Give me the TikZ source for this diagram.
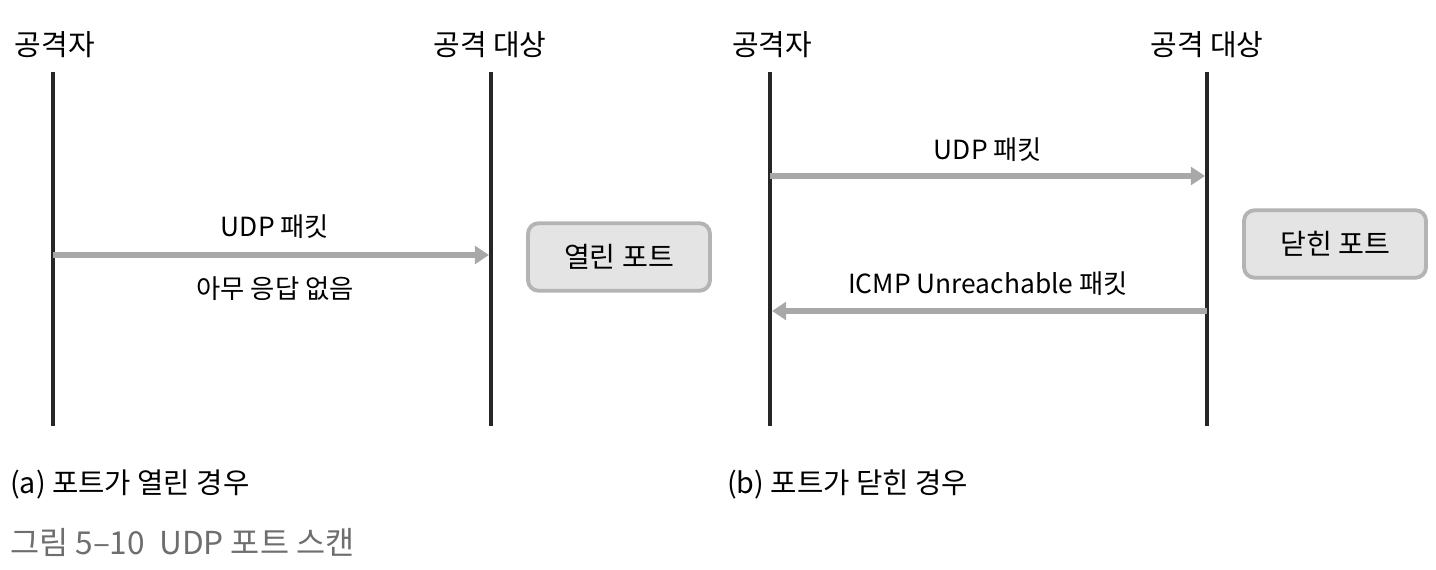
\documentclass[tikz,border=0pt]{standalone}
\usepackage{fontspec}
\setmainfont{Noto Sans CJK KR}
\usepackage{xcolor}
\usetikzlibrary{arrows.meta,positioning}
\definecolor{msg}{HTML}{A8A8A8}
\definecolor{boxfill}{HTML}{E4E4E4}
\definecolor{boxline}{HTML}{B4B4B4}
\definecolor{capgray}{HTML}{6E6E6E}

\tikzset{
  actor/.style={font=\fontsize{16.5}{19}\selectfont},
  lifeline/.style={line width=2.3pt,black!85},
  msgarrow/.style={msg,line width=3.4pt,-{Triangle[length=8pt,width=10pt]}},
  msglabel/.style={font=\fontsize{15}{18}\selectfont},
  portbox/.style={draw=boxline,fill=boxfill,line width=2.2pt,rounded corners=6pt,
    minimum width=3.64cm,minimum height=1.35cm,font=\fontsize{16}{19}\selectfont},
  subcap/.style={anchor=west,font=\fontsize{16.3}{19}\selectfont},
}

\begin{document}
\begin{tikzpicture}[x=0.02cm,y=-0.02cm,>=Latex]
\useasboundingbox (0,0) rectangle (1436,570);

% (a) open port
\begin{scope}
  \node[actor] (attA) at (55,45) {공격자};
  \node[actor] (tgtA) at (490,45) {공격 대상};
  \coordinate (attAtop) at (53,72);  \coordinate (attAbot) at (53,426);
  \coordinate (tgtAtop) at (491,72); \coordinate (tgtAbot) at (491,426);
  \draw[lifeline] (attAtop)--(attAbot);
  \draw[lifeline] (tgtAtop)--(tgtAbot);
  \coordinate (sendA) at (53,255); \coordinate (recvA) at (489,255);
  \draw[msgarrow] (sendA)--(recvA);
  \node[msglabel] (udpA) at (275,227) {UDP 패킷};
  \node[msglabel] (noreply) at (275,289) {아무 응답 없음};
  \node[portbox] (openport) at (619,257) {열린 포트};
  \node[subcap] (capA) at (4,484) {(a) 포트가 열린 경우};
\end{scope}

% (b) closed port
\begin{scope}[shift={(717,0)}]
  \node[actor] (attB) at (55,45) {공격자};
  \node[actor] (tgtB) at (490,45) {공격 대상};
  \coordinate (attBtop) at (53,72);  \coordinate (attBbot) at (53,426);
  \coordinate (tgtBtop) at (490,72); \coordinate (tgtBbot) at (490,426);
  \draw[lifeline] (attBtop)--(attBbot);
  \draw[lifeline] (tgtBtop)--(tgtBbot);
  \coordinate (sendB) at (53,176); \coordinate (recvB) at (488,176);
  \draw[msgarrow] (sendB)--(recvB);
  \node[msglabel] (udpB) at (271,150) {UDP 패킷};
  \coordinate (icmpS) at (490,311); \coordinate (icmpE) at (55,311);
  \draw[msgarrow] (icmpS)--(icmpE);
  \node[msglabel] (icmp) at (271,284) {ICMP Unreachable 패킷};
  \node[portbox] (closedport) at (618,244) {닫힌 포트};
  \node[subcap] (capB) at (4,484) {(b) 포트가 닫힌 경우};
\end{scope}

\node[subcap,capgray,font=\fontsize{18}{21}\selectfont] (figcap) at (4,542)
  {그림 5--10\ \ UDP 포트 스캔};
\end{tikzpicture}
\end{document}
